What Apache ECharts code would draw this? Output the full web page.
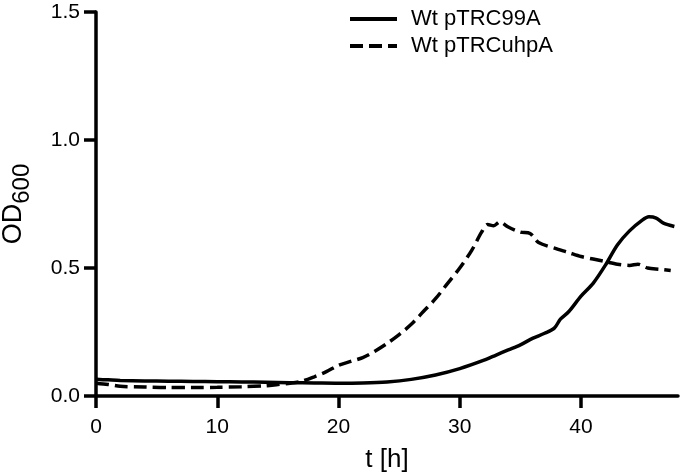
<!DOCTYPE html>
<html>
<head>
<meta charset="utf-8">
<script src="https://cdn.jsdelivr.net/npm/echarts@6/dist/echarts.min.js"></script>
<style>html,body{margin:0;padding:0;background:#fff}#c{width:680px;height:472px}</style>
</head>
<body>
<div id="c"></div>
<script>
var seriesNames = ['Wt pTRC99A', 'Wt pTRCuhpA'];
var xTicks = [0, 10, 20, 30, 40];
var yTicks = [0.0, 0.5, 1.0, 1.5];

var tA = [0,1,2,4,6,8,10,12,14,16,18,20,22,24,26,28,30,32,33,34,35,36,37,37.8,38.3,39,40,41,42,43,44,45,45.6,46.2,46.8,47.7];
var odA = [0.065,0.063,0.061,0.059,0.058,0.057,0.056,0.055,0.054,0.052,0.051,0.050,0.051,0.055,0.065,0.082,0.107,0.14,0.16,0.18,0.20,0.225,0.245,0.265,0.30,0.33,0.39,0.44,0.51,0.59,0.645,0.685,0.70,0.695,0.675,0.662];

var tB = [0,1,2,4,6,8,10,12,14,15,16,17,18,19,20,21,22,23,24,25,26,27,28,29,30,31,31.8,32.3,32.8,33.3,34,35,35.8,36.5,38,39,40,41,42,43,44,44.7,45.5,46.5,47.4];
var odB = [0.05,0.045,0.038,0.035,0.033,0.033,0.034,0.036,0.04,0.045,0.05,0.058,0.075,0.095,0.12,0.135,0.15,0.175,0.205,0.24,0.28,0.33,0.38,0.44,0.50,0.57,0.64,0.67,0.665,0.68,0.66,0.64,0.635,0.60,0.575,0.56,0.545,0.535,0.525,0.515,0.51,0.515,0.50,0.495,0.49];

function pairs(t, v) { return t.map(function (x, i) { return [x, v[i]]; }); }

var font = 'Liberation Sans, Arial, sans-serif';
var chart = echarts.init(document.getElementById('c'));
chart.setOption({
  animation: false,
  backgroundColor: '#fff',
  grid: { left: 96, right: 2, top: 12, bottom: 76, containLabel: false, outerBoundsMode: 'none' },
  legend: {
    orient: 'vertical', left: 343, top: 3, itemWidth: 47, itemHeight: 14, itemGap: 5,
    itemStyle: { opacity: 0 },
    lineStyle: { width: 4 },
    textStyle: { fontFamily: font, fontSize: 22, color: '#000', padding: [0, 0, 0, 9], lineHeight: 22 },
    data: seriesNames
  },
  xAxis: {
    type: 'value', min: 0, max: 48, interval: 10,
    name: 't [h]', nameLocation: 'middle', nameGap: 51,
    nameTextStyle: { fontFamily: font, fontSize: 26, color: '#000' },
    axisLine: { lineStyle: { color: '#000', width: 3.5 } },
    axisTick: { length: 12, lineStyle: { width: 3.5, color: '#000' } },
    axisLabel: { fontFamily: font, fontSize: 21, color: '#000', margin: 21, showMaxLabel: false },
    splitLine: { show: false }
  },
  yAxis: {
    type: 'value', min: 0, max: 1.5, interval: 0.5,
    name: '{a|OD}{b|600}', nameLocation: 'middle', nameGap: 62, nameRotate: 90,
    nameTextStyle: {
      fontFamily: font, fontSize: 27, color: '#000',
      rich: {
        a: { fontFamily: font, fontSize: 27, color: '#000' },
        b: { fontFamily: font, fontSize: 24, color: '#000', padding: [16, 0, 0, 0] }
      }
    },
    axisLine: { show: true, lineStyle: { color: '#000', width: 3.5 } },
    axisTick: { show: true, length: 12, lineStyle: { width: 3.5, color: '#000' } },
    axisLabel: { fontFamily: font, fontSize: 21, color: '#000', margin: 16,
      formatter: function (v) { return v.toFixed(1); } },
    splitLine: { show: false }
  },
  series: [
    { name: seriesNames[0], type: 'line', showSymbol: false, symbol: 'none', smooth: 0.3,
      data: pairs(tA, odA), lineStyle: { color: '#000', width: 3.5 }, itemStyle: { color: '#000' } },
    { name: seriesNames[1], type: 'line', showSymbol: false, symbol: 'none', smooth: 0.3,
      data: pairs(tB, odB), lineStyle: { color: '#000', width: 3.5, type: [13, 6] }, itemStyle: { color: '#000' } }
  ]
});
</script>
</body>
</html>
